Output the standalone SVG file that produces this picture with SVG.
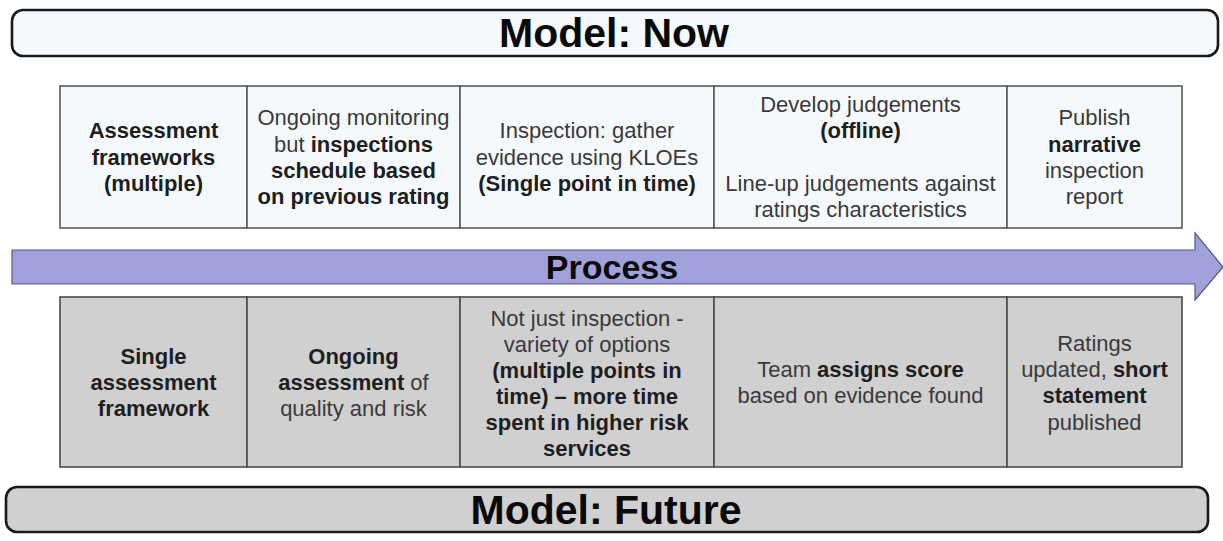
<svg xmlns="http://www.w3.org/2000/svg" width="1223" height="541" viewBox="0 0 1223 541">
  <style>
    text { font-family: "Liberation Sans", Arial, sans-serif; text-anchor: middle; }
    .cell { font-size: 22px; fill: #3a3a3a; }
    .b { font-weight: bold; fill: #1e1e1e; }
    .banner { stroke: #1a1a1a; stroke-width: 2.6; }
    .title { font-size: 41px; font-weight: bold; fill: #0a0a0a; }
    .now { fill: #f5f9fc; stroke: #5a5a5a; stroke-width: 1.6; }
    .future { fill: #d0d0d0; stroke: #4a4a4a; stroke-width: 1.6; }
  </style>
  <rect width="1223" height="541" fill="#ffffff"/>

  <!-- Header banner -->
  <g id="model-now">
    <rect class="banner" x="12" y="10" width="1206" height="46" rx="11" fill="#f5f9fc"/>
    <text class="title" x="614" y="47">Model: Now</text>
  </g>

  <!-- Current model steps -->
  <g id="now-assessment">
    <rect class="now" x="60" y="86" width="187" height="142"/>
    <text class="cell b" x="153.5" y="138">Assessment</text>
    <text class="cell b" x="153.5" y="165">frameworks</text>
    <text class="cell b" x="153.5" y="191">(multiple)</text>
  </g>
  <g id="now-monitoring">
    <rect class="now" x="247" y="86" width="213" height="142"/>
    <text class="cell" x="353.5" y="125">Ongoing monitoring</text>
    <text class="cell" x="353.5" y="152">but <tspan class="b">inspections</tspan></text>
    <text class="cell b" x="353.5" y="178">schedule based</text>
    <text class="cell b" x="353.5" y="204">on previous rating</text>
  </g>
  <g id="now-inspection">
    <rect class="now" x="460" y="86" width="254" height="142"/>
    <text class="cell" x="587" y="138">Inspection: gather</text>
    <text class="cell" x="587" y="165">evidence using KLOEs</text>
    <text class="cell b" x="587" y="191">(Single point in time)</text>
  </g>
  <g id="now-judgements">
    <rect class="now" x="714" y="86" width="293" height="142"/>
    <text class="cell" x="860.5" y="112">Develop judgements</text>
    <text class="cell b" x="860.5" y="138">(offline)</text>
    <text class="cell" x="860.5" y="191">Line-up judgements against</text>
    <text class="cell" x="860.5" y="217">ratings characteristics</text>
  </g>
  <g id="now-publish">
    <rect class="now" x="1007" y="86" width="175" height="142"/>
    <text class="cell" x="1094.5" y="125">Publish</text>
    <text class="cell b" x="1094.5" y="152">narrative</text>
    <text class="cell" x="1094.5" y="178">inspection</text>
    <text class="cell" x="1094.5" y="204">report</text>
  </g>

  <!-- Process arrow -->
  <g id="process">
    <polygon points="12,250 1195,250 1195,233 1223,267 1195,300 1195,284 12,284" fill="#a0a1db" stroke="#5a5a7a" stroke-width="1.2" stroke-linejoin="miter"/>
    <text x="612" y="279" font-size="34" font-weight="bold" fill="#0a0a0a">Process</text>
  </g>

  <!-- Future model steps -->
  <g id="future-framework">
    <rect class="future" x="60" y="297" width="187" height="170"/>
    <text class="cell b" x="153.5" y="364">Single</text>
    <text class="cell b" x="153.5" y="390">assessment</text>
    <text class="cell b" x="153.5" y="416">framework</text>
  </g>
  <g id="future-assessment">
    <rect class="future" x="247" y="297" width="213" height="170"/>
    <text class="cell b" x="353.5" y="364">Ongoing</text>
    <text class="cell" x="353.5" y="390"><tspan class="b">assessment</tspan>  of</text>
    <text class="cell" x="353.5" y="416">quality and risk</text>
  </g>
  <g id="future-options">
    <rect class="future" x="460" y="297" width="254" height="170"/>
    <text class="cell" x="587" y="326">Not just inspection -</text>
    <text class="cell" x="587" y="352">variety of options</text>
    <text class="cell b" x="587" y="378">(multiple points in</text>
    <text class="cell b" x="587" y="404">time) – more time</text>
    <text class="cell b" x="587" y="430">spent in higher risk</text>
    <text class="cell b" x="587" y="456">services</text>
  </g>
  <g id="future-score">
    <rect class="future" x="714" y="297" width="293" height="170"/>
    <text class="cell" x="860.5" y="377">Team <tspan class="b">assigns score</tspan></text>
    <text class="cell" x="860.5" y="403">based on evidence found</text>
  </g>
  <g id="future-ratings">
    <rect class="future" x="1007" y="297" width="175" height="170"/>
    <text class="cell" x="1094.5" y="351">Ratings</text>
    <text class="cell" x="1094.5" y="377">updated, <tspan class="b">short</tspan></text>
    <text class="cell b" x="1094.5" y="403">statement</text>
    <text class="cell" x="1094.5" y="430">published</text>
  </g>

  <!-- Footer banner -->
  <g id="model-future">
    <rect class="banner" x="6" y="487" width="1202" height="45" rx="11" fill="#d0d0d0"/>
    <text class="title" x="606" y="524">Model: Future</text>
  </g>
</svg>
